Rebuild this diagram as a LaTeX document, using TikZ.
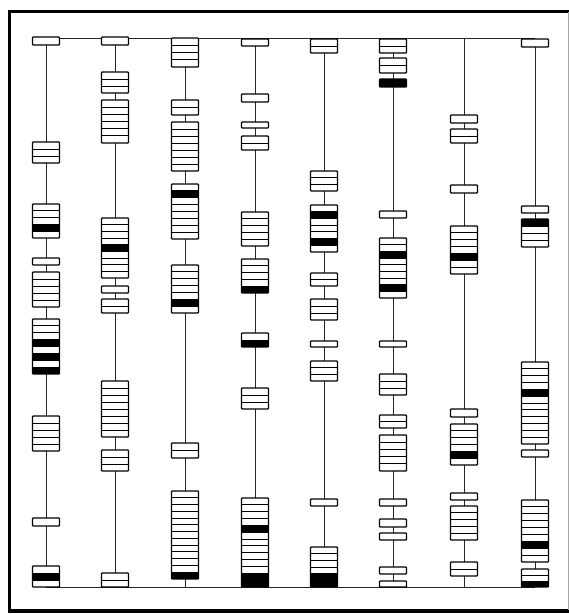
\documentclass[tikz,border=0pt]{standalone}
\tikzset{
  x=1pt, y=-1pt,
  axis/.style={line width=1pt, black!85},
  rim/.style={line width=1.2pt, black, rounded corners=0.8pt},
  sep/.style={line width=0.9pt, black},
  frame/.style={line width=3.2pt, black},
}
% \bandstack{x}{top}{bottom}{rows}{black rows (0 = none)}
\newcommand\bandstack[5]{%
  \pgfmathsetmacro\rowh{(#3-#2)/#4}%
  \fill[white] ({#1-13.5},#2) rectangle ({#1+13.5},#3);%
  \foreach \k in {#5}{\ifnum\k>0 \fill[black] ({#1-13.5},{#2+(\k-1)*\rowh}) rectangle ({#1+13.5},{#2+\k*\rowh});\fi}%
  \ifnum#4>1 \foreach \k in {2,...,#4}{\draw[sep] ({#1-13.5},{#2+(\k-1)*\rowh}) -- ({#1+13.5},{#2+(\k-1)*\rowh});}\fi
  \draw[rim] ({#1-13.5},#2) rectangle ({#1+13.5},#3);%
}
\begin{document}
\begin{tikzpicture}
\useasboundingbox (0,0) rectangle (569,614);
\fill[white] (0,0) rectangle (569,614);
% outer frame
\draw[frame] (9.5,611) -- (9.5,11.5) -- (569,11.5);
\draw[frame] (8,611) -- (569,611);
\draw[line width=0.6pt, black!35] (567.8,12) -- (567.8,610);
% column ends
\foreach \i/\x in {1/46,2/115,3/185,4/255,5/324,6/393,7/464,8/535}{
  \coordinate (c\i t) at (\x,38.5);
  \coordinate (c\i b) at (\x,587);
}
\draw[axis] (c1t) -- (c8t);
\draw[axis] (c1b) -- (c8b);
\foreach \i in {1,...,8}{\draw[axis] (c\i t) -- (c\i b);}
% column 1
\bandstack{46}{37}{45}{1}{0}
\bandstack{46}{142}{163}{3}{0}
\bandstack{46}{204}{238}{5}{4}
\bandstack{46}{258}{265}{1}{0}
\bandstack{46}{272}{307}{5}{0}
\bandstack{46}{319}{374}{8}{4,6,8}
\bandstack{46}{416}{451}{5}{0}
\bandstack{46}{518}{526}{1}{0}
\bandstack{46}{566}{587}{3}{2}
% column 2
\bandstack{115}{37}{45}{1}{0}
\bandstack{115}{72}{93}{3}{0}
\bandstack{115}{100}{143}{6}{0}
\bandstack{115}{218}{278}{9}{5}
\bandstack{115}{286}{293}{1}{0}
\bandstack{115}{299}{313}{2}{0}
\bandstack{115}{381}{437}{8}{0}
\bandstack{115}{450}{471}{3}{0}
\bandstack{115}{573}{587}{2}{0}
% column 3
\bandstack{185}{38}{67}{4}{0}
\bandstack{185}{100}{115}{2}{0}
\bandstack{185}{122}{171}{7}{0}
\bandstack{185}{184}{239}{8}{2}
\bandstack{185}{265}{313}{7}{6}
\bandstack{185}{443}{458}{2}{0}
\bandstack{185}{491}{579}{13}{13}
% column 4
\bandstack{255}{39}{46}{1}{0}
\bandstack{255}{94}{102}{1}{0}
\bandstack{255}{122}{128}{1}{0}
\bandstack{255}{136}{150}{2}{0}
\bandstack{255}{212}{246}{5}{0}
\bandstack{255}{259}{293}{5}{5}
\bandstack{255}{333}{347}{2}{2}
\bandstack{255}{388}{409}{3}{0}
\bandstack{255}{498}{587}{13}{5,12,13}
% column 5
\bandstack{324}{39}{53}{2}{0}
\bandstack{324}{171}{191}{3}{0}
\bandstack{324}{205}{252}{7}{2,6}
\bandstack{324}{273}{286}{2}{0}
\bandstack{324}{299}{320}{3}{0}
\bandstack{324}{341}{347}{1}{0}
\bandstack{324}{361}{381}{3}{0}
\bandstack{324}{499}{506}{1}{0}
\bandstack{324}{547}{587}{6}{5,6}
% column 6
\bandstack{393}{39}{53}{2}{0}
\bandstack{393}{58}{73}{2}{0}
\bandstack{393}{79}{87}{1}{1}
\bandstack{393}{211}{218}{1}{0}
\bandstack{393}{238}{298}{9}{3,8}
\bandstack{393}{341}{347}{1}{0}
\bandstack{393}{374}{395}{3}{0}
\bandstack{393}{415}{428}{2}{0}
\bandstack{393}{435}{471}{5}{0}
\bandstack{393}{499}{506}{1}{0}
\bandstack{393}{519}{527}{1}{0}
\bandstack{393}{533}{540}{1}{0}
\bandstack{393}{567}{574}{1}{0}
\bandstack{393}{581}{587}{1}{0}
% column 7
\bandstack{464}{115}{123}{1}{0}
\bandstack{464}{129}{143}{2}{0}
\bandstack{464}{185}{193}{1}{0}
\bandstack{464}{226}{274}{7}{5}
\bandstack{464}{409}{417}{1}{0}
\bandstack{464}{424}{465}{6}{5}
\bandstack{464}{493}{500}{1}{0}
\bandstack{464}{506}{540}{5}{0}
\bandstack{464}{562}{576}{2}{0}
% column 8
\bandstack{535}{39}{47}{1}{0}
\bandstack{535}{206}{213}{1}{0}
\bandstack{535}{219}{247}{4}{1}
\bandstack{535}{362}{444}{12}{5}
\bandstack{535}{450}{457}{1}{0}
\bandstack{535}{500}{562}{9}{7}
\bandstack{535}{569}{587}{3}{3}
\end{tikzpicture}
\end{document}
